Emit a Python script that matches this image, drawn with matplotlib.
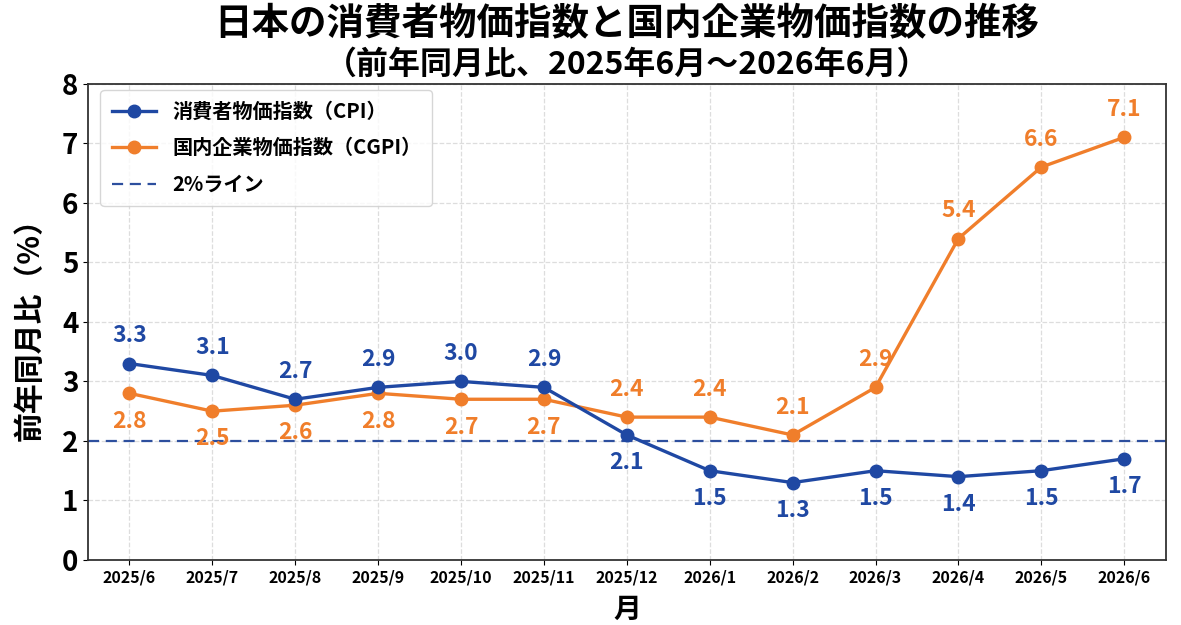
import matplotlib
matplotlib.use("Agg")
import matplotlib.pyplot as plt

plt.rcParams['font.family'] = ['Noto Sans CJK JP', 'DejaVu Sans']

months = ["2025/6", "2025/7", "2025/8", "2025/9", "2025/10", "2025/11", "2025/12",
          "2026/1", "2026/2", "2026/3", "2026/4", "2026/5", "2026/6"]
cpi = [3.3, 3.1, 2.7, 2.9, 3.0, 2.9, 2.1, 1.5, 1.3, 1.5, 1.4, 1.5, 1.7]
cgpi = [2.8, 2.5, 2.6, 2.8, 2.7, 2.7, 2.4, 2.4, 2.1, 2.9, 5.4, 6.6, 7.1]
# label position: +1 above, -1 below
cpi_side = [1, 1, 1, 1, 1, 1, -1, -1, -1, -1, -1, -1, -1]
cgpi_side = [-1, -1, -1, -1, -1, -1, 1, 1, 1, 1, 1, 1, 1]
target = 2.0

blue = "#1f48a3"
orange = "#f07e2b"

fig = plt.figure(figsize=(11.81, 6.25), dpi=100)
ax = fig.add_axes([0.0745, 0.104, 0.9125, 0.762])

x = list(range(len(months)))
ax.plot(x, cgpi, color=orange, lw=2.4, marker="o", ms=9, zorder=3,
        label="国内企業物価指数（CGPI）")
ax.plot(x, cpi, color=blue, lw=2.4, marker="o", ms=9, zorder=4,
        label="消費者物価指数（CPI）")
ax.axhline(target, color="#2d4f9e", lw=1.6, ls=(0, (5, 3)), zorder=2, label="2%ライン")

for xi, v, s in zip(x, cpi, cpi_side):
    ax.annotate(f"{v:.1f}", (xi, v), xytext=(0, 20 * s), textcoords="offset points",
                ha="center", va="center", color=blue, fontsize=16.5, fontweight="bold", zorder=5)
for xi, v, s in zip(x, cgpi, cgpi_side):
    ax.annotate(f"{v:.1f}", (xi, v), xytext=(0, 20 * s), textcoords="offset points",
                ha="center", va="center", color=orange, fontsize=16.5, fontweight="bold", zorder=5)

ax.set_xlim(-0.5, 12.5)
ax.set_ylim(0, 8)
ax.set_xticks(x)
ax.set_xticklabels(months, fontsize=11.5, fontweight="bold")
ax.set_yticks(range(0, 9))
ax.tick_params(axis="y", labelsize=20)
for lab in ax.get_yticklabels():
    lab.set_fontweight("bold")
ax.grid(True, color="#dddddd", ls="--", lw=0.9)
for sp in ax.spines.values():
    sp.set_color("#333333")
    sp.set_linewidth(1.3)

ax.set_ylabel("前年同月比（%）", fontsize=21.5, fontweight="bold", labelpad=12)
ax.set_xlabel("月", fontsize=20, fontweight="bold", labelpad=7)

handles, labels = ax.get_legend_handles_labels()
order = [1, 0, 2]
leg = ax.legend([handles[i] for i in order], [labels[i] for i in order],
                loc="upper left", fontsize=14.5, frameon=True, handlelength=2.2,
                borderpad=0.55, labelspacing=0.75, borderaxespad=0.3,
                bbox_to_anchor=(0.006, 0.999))
leg.get_frame().set_edgecolor("#cccccc")
for t in leg.get_texts():
    t.set_fontweight("bold")

fig.text(0.531, 0.962, "日本の消費者物価指数と国内企業物価指数の推移", ha="center", va="center",
         fontsize=27, fontweight="bold")
fig.text(0.531, 0.897, "（前年同月比、2025年6月～2026年6月）", ha="center", va="center",
         fontsize=23, fontweight="bold")

fig.savefig("out.png", dpi=100)
